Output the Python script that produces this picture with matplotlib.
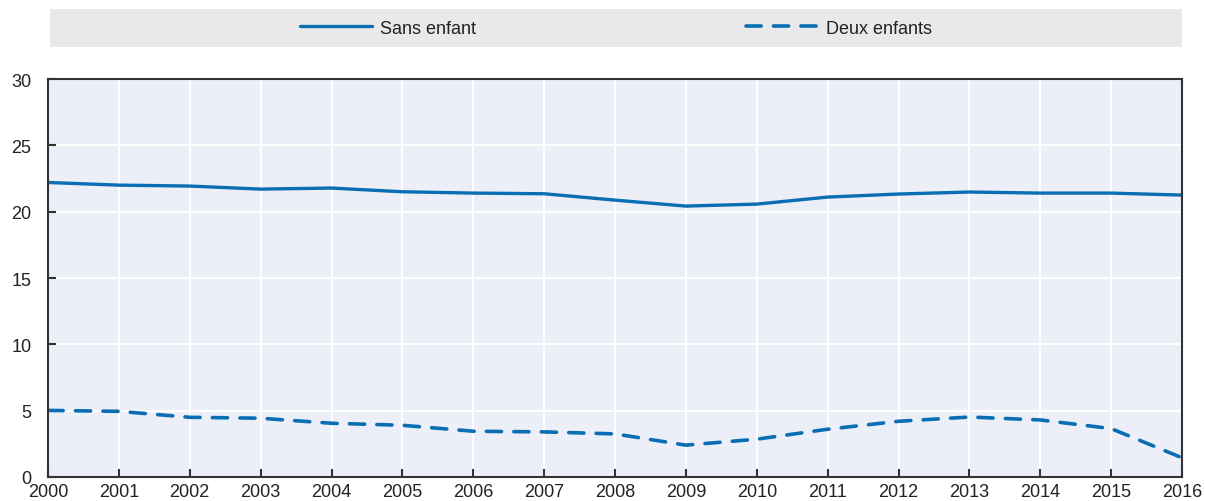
import matplotlib
matplotlib.use("Agg")
import matplotlib.pyplot as plt

years = list(range(2000, 2017))
sans_enfant = [22.2, 22.0, 21.93, 21.7, 21.78, 21.5, 21.4, 21.35, 20.87, 20.42, 20.57, 21.1, 21.33, 21.48, 21.4, 21.4, 21.25]
deux_enfants = [5.02, 4.95, 4.5, 4.43, 4.05, 3.9, 3.45, 3.4, 3.25, 2.4, 2.85, 3.6, 4.2, 4.52, 4.3, 3.65, 1.45]
series_names = ["Sans enfant", "Deux enfants"]
y_ticks = [0, 5, 10, 15, 20, 25, 30]

plt.rcParams['font.family'] = ["Liberation Sans", 'DejaVu Sans']

W, H = 1205, 502
fig = plt.figure(figsize=(W / 100, H / 100), dpi=100)
ax = fig.add_axes([48 / W, (H - 478) / H, 1134 / W, 398 / H])
ax.set_facecolor("#ECEFF7")
blue = "#0A6EB4"
l1, = ax.plot(years, sans_enfant, color=blue, lw=2.4, solid_capstyle="round", label=series_names[0])
l2, = ax.plot(years, deux_enfants, color=blue, lw=2.6, dashes=(4.2, 3.4), dash_capstyle="round", label=series_names[1])

ax.set_xlim(2000, 2016)
ax.set_ylim(0, 30)
ax.set_xticks(years)
ax.set_yticks(y_ticks)
ax.grid(True, color="white", lw=1.5)
ax.set_axisbelow(True)
for s in ax.spines.values():
    s.set_color("#333333")
    s.set_linewidth(1.5)
ax.tick_params(axis="both", direction="in", length=6, width=1.5, color="#333333",
               labelsize=13, labelcolor="#222222")
ax.tick_params(axis="x", pad=4)
ax.tick_params(axis="y", pad=12)

lax = fig.add_axes([50 / W, (H - 48) / H, 1132 / W, 38 / H])
lax.set_facecolor("#E9E9EB")
lax.set_xticks([])
lax.set_yticks([])
for s in lax.spines.values():
    s.set_visible(False)
leg = lax.legend(handles=[l1, l2], loc="center", ncol=2, frameon=False,
                 fontsize=13, handlelength=4.0, handletextpad=0.4, columnspacing=15.0,
                 labelcolor="#222222", bbox_to_anchor=(0.5, 0.5))

fig.savefig("out.png", dpi=100)
